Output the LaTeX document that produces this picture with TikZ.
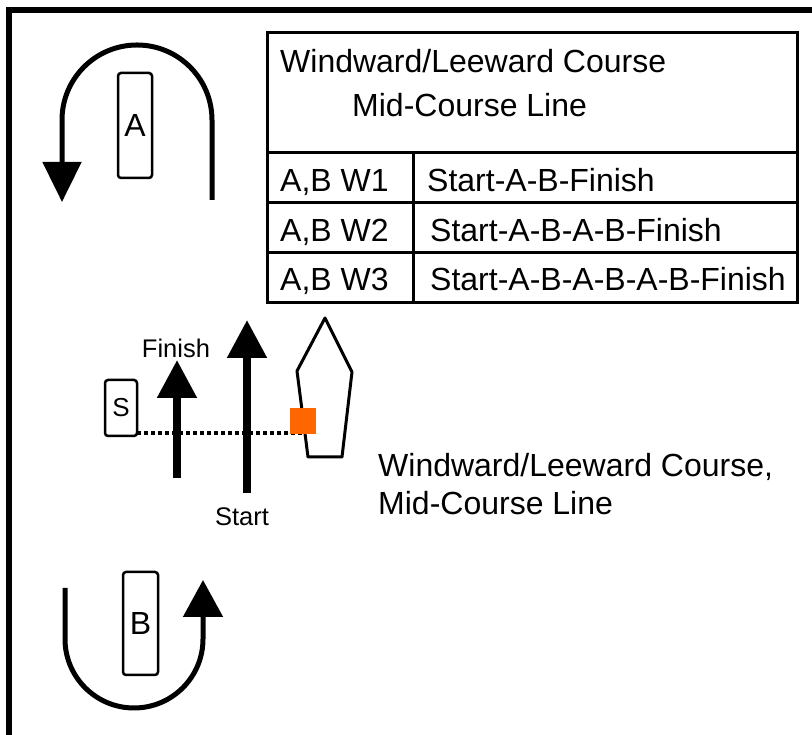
\documentclass[tikz,border=0pt]{standalone}
\usepackage{fontspec}
\setmainfont{Liberation Sans}
\usetikzlibrary{arrows.meta}
\definecolor{flagorange}{HTML}{FF6600}
\tikzset{
  big/.style={font=\fontsize{32}{38}\selectfont, inner sep=0pt},
  small/.style={font=\fontsize{25.5}{30}\selectfont, inner sep=0pt},
  buoy/.style={draw, line width=2.5pt, rounded corners=3pt, minimum width=34pt,
    font=\fontsize{32}{38}\selectfont},
  rounding/.style={line width=5pt, -{Triangle[length=40pt,width=38pt]}},
  lineup/.style={line width=8pt, -{Triangle[length=38pt,width=38pt]}}
}
\begin{document}
\begin{tikzpicture}[x=1pt,y=1pt]
  \useasboundingbox (0,0) rectangle (812,735);
  % frame
  \draw[line width=6pt] (9,0) -- (9,725) -- (812,725);

  % table
  \draw[line width=3pt] (267,432) rectangle (797,702);
  \draw[line width=3pt] (267,582) -- (797,582)
    (267,532) -- (797,532) (267,482) -- (797,482)
    (413,582) -- (413,432);
  \node[big, anchor=base west] (title) at (280,662) {Windward/Leeward Course};
  \node[big, anchor=base west] (sub) at (352,618) {Mid-Course Line};
  \node[big, anchor=base west] (w1) at (280,543) {A,B W1};
  \node[big, anchor=base west] (w2) at (280,493) {A,B W2};
  \node[big, anchor=base west] (w3) at (280,444) {A,B W3};
  \node[big, anchor=base west] (c1) at (427,543) {Start-A-B-Finish};
  \node[big, anchor=base west] (c2) at (430,493) {Start-A-B-A-B-Finish};
  \node[big, anchor=base west] (c3) at (430,444) {Start-A-B-A-B-A-B-Finish};

  % marks
  \node[buoy, minimum height=105pt] (A) at (135,609.5) {A};
  \node[buoy, minimum height=103pt, minimum width=35pt] (B) at (140.5,111.5) {B};
  \node[buoy, minimum width=32pt, minimum height=56pt,
    font=\fontsize{26}{30}\selectfont] (S) at (121,327) {S};

  % roundings
  \draw[rounding] (212,535) -- (212,615) arc (0:180:75) -- (62,533);
  \draw[rounding, -{Triangle[length=37pt,width=39pt]}]
    (65,147) -- (65,96) arc (180:360:69) -- (203,155);

  % committee boat and flag
  \draw[line width=3pt, line join=round] (325,417) -- (352,363) -- (342,278)
    -- (308,278) -- (297,364) -- cycle;
  \coordinate (lineS) at (137,302);
  \coordinate (flagC) at (303,313.5);
  \draw[line width=3.5pt, dash pattern=on 3.5pt off 3.5pt] (lineS) -- (flagC |- lineS);
  \node[fill=flagorange, minimum size=26pt, inner sep=0pt] (flag) at (flagC) {};

  % start and finish
  \coordinate (finA) at (177,257);
  \coordinate (finB) at (177,375);
  \coordinate (staA) at (247,242);
  \coordinate (staB) at (247,415);
  \draw[lineup] (finA) -- (finB);
  \draw[lineup] (staA) -- (staB);
  \node[small] (finish) at (176,387) {Finish};
  \node[small] (start) at (242,218) {Start};

  % caption
  \node[big, anchor=base west] (cap1) at (378,258) {Windward/Leeward Course,};
  \node[big, anchor=base west] (cap2) at (378,220) {Mid-Course Line};
\end{tikzpicture}
\end{document}
